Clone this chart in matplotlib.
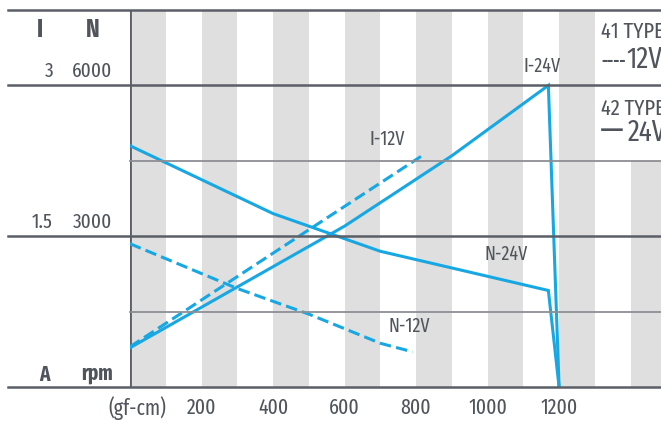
import matplotlib
matplotlib.use("Agg")
import matplotlib.pyplot as plt
import matplotlib.transforms as mtransforms
from matplotlib.lines import Line2D
from matplotlib.patches import Rectangle

plt.rcParams['font.family'] = ['Fira Sans Extra Condensed', 'Fira Sans Condensed', 'DejaVu Sans']

# ---- data ----
torque_n24 = [0, 400, 700, 1170, 1200]
n24 = [4800, 3450, 2700, 1920, 0]
torque_i24 = [0, 600, 900, 1170, 1200]
i24 = [0.39, 1.60, 2.30, 3.00, 0.0]
torque_n12 = [0, 300, 500, 700, 790]
n12 = [2850, 1960, 1450, 870, 700]
torque_i12 = [0, 825]
i12 = [0.40, 2.32]

xticks = [200, 400, 600, 800, 1000, 1200]
xticklabels = ['200', '400', '600', '800', '1000', '1200']
n_ticks = [6000, 3000]
n_ticklabels = ['6000', '3000']
i_ticklabels = ['3', '1.5']

RATIO = 2000.0  # N units per A
XMAX, YMAX = 1485, 7500

BLUE = '#17a8e3'
TEXT = '#50555c'
DARK = '#5a5f66'
LIGHT = '#8c8f94'
STRIPE = '#dfdfdf'

W, H = 661, 421
fig = plt.figure(figsize=(W / 100, H / 100), dpi=100)
ax = fig.add_axes([130 / W, (H - 387) / H, (W - 130) / W, (387 - 10) / H])
ax.set_xlim(0, XMAX)
ax.set_ylim(0, YMAX)
ax.axis('off')

# stripes
for s in range(0, XMAX, 200):
    ax.axvspan(s, min(s + 100, XMAX), color=STRIPE, lw=0, zorder=0)
# legend area white box
ax.add_patch(Rectangle((1300, 4500), XMAX - 1300, YMAX - 4500, color='white', lw=0, zorder=0.5))

# horizontal grid lines extending left past the axes
tr = mtransforms.blended_transform_factory(fig.transFigure, ax.transData)
for yv in [0, 3000, 6000, YMAX]:
    fig.add_artist(Line2D([8 / W, 1], [yv, yv], transform=tr, color=DARK, lw=1.8, zorder=1))
for yv in [1500, 4500]:
    fig.add_artist(Line2D([130 / W, 1], [yv, yv], transform=tr, color=LIGHT, lw=1.3, zorder=1))
ax.axvline(0, color=DARK, lw=2.0, zorder=2)

# curves
ax.plot(torque_n24, n24, color=BLUE, lw=2.2, zorder=3, solid_joinstyle='miter')
ax.plot(torque_i24, [v * RATIO for v in i24], color=BLUE, lw=2.2, zorder=3, solid_joinstyle='miter')
ax.plot(torque_n12, n12, color=BLUE, lw=2.2, zorder=3, dashes=(3.8, 1.7))
ax.plot(torque_i12, [v * RATIO for v in i12], color=BLUE, lw=2.2, zorder=3, dashes=(3.8, 1.7))

# curve labels
lab = dict(color=TEXT, fontsize=14, ha='center', va='center', zorder=4)
ax.text(1152, 6380, 'I-24V', **lab)
ax.text(720, 4920, 'I-12V', **lab)
ax.text(1052, 2650, 'N-24V', **lab)
ax.text(782, 1210, 'N-12V', **lab)

# x tick labels
for xv, t in zip(xticks, xticklabels):
    ax.text(xv, -410, t, color=TEXT, fontsize=15.5, ha='center', va='center')
fig.text(137 / W, 1 - 408 / H, '(gf-cm)', color=TEXT, fontsize=15.5, ha='center', va='center')

# left axis labels
fig.text(40 / W, 1 - 30 / H, 'I', color=TEXT, fontsize=18, fontweight='bold', ha='center', va='center')
fig.text(93 / W, 1 - 30 / H, 'N', color=TEXT, fontsize=18, fontweight='bold', ha='center', va='center')
for nv, nl, il in zip(n_ticks, n_ticklabels, i_ticklabels):
    ypix = 387 - nv / 6000 * 302 - 14
    fig.text(112 / W, 1 - ypix / H, nl, color=TEXT, fontsize=15, ha='right', va='center')
    fig.text(53 / W, 1 - ypix / H, il, color=TEXT, fontsize=15, ha='right', va='center')
fig.text(44 / W, 1 - 375 / H, 'A', color=TEXT, fontsize=15, fontweight='bold', ha='center', va='center')
fig.text(113 / W, 1 - 373 / H, 'rpm', color=TEXT, fontsize=15, fontweight='bold', ha='right', va='center')

# legend text
fig.text(601 / W, 1 - 32 / H, '41 TYPE', color=TEXT, fontsize=16, ha='left', va='center')
fig.text(601 / W, 1 - 62 / H, '----', color=TEXT, fontsize=13, fontweight='bold', ha='left', va='center')
fig.text(626 / W, 1 - 60 / H, '12V', color=TEXT, fontsize=21, ha='left', va='center')
fig.text(601 / W, 1 - 109 / H, '42 TYPE', color=TEXT, fontsize=16, ha='left', va='center')
fig.text(600 / W, 1 - 131 / H, '—', color=TEXT, fontsize=26, ha='left', va='center')
fig.text(628 / W, 1 - 133 / H, '24V', color=TEXT, fontsize=21, ha='left', va='center')

fig.savefig('out.png', dpi=100)
